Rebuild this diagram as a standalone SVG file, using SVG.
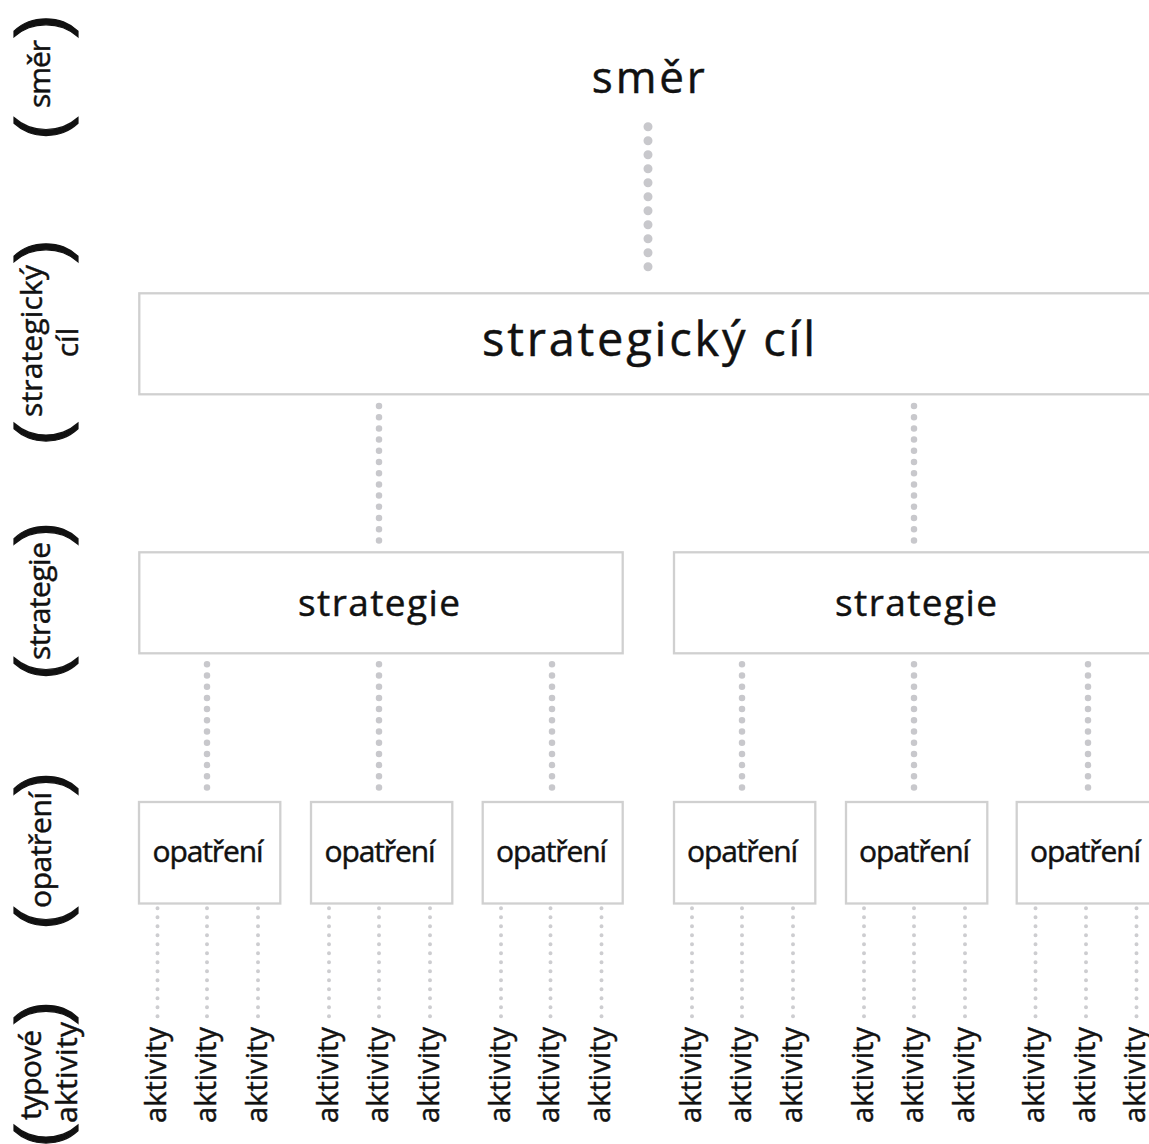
<svg xmlns="http://www.w3.org/2000/svg" width="1149" height="1144" viewBox="0 0 1149 1144">
<style>
  text { font-family: "Open Sans", "Noto Sans", "DejaVu Sans", sans-serif; fill: #111; stroke: #111; stroke-width: 0.45; }
  .box { fill: #fff; stroke: #d0d0d0; stroke-width: 2.3; }
  .lbl { font-size: 30px; text-anchor: middle; }
  .par { font-family: "Liberation Sans", Arial, sans-serif; font-size: 68px; text-anchor: middle; stroke-width: 1.2; }
  .act { font-size: 29px; text-anchor: middle; }
  .dl { fill: none; stroke: #c8c8cc; stroke-linecap: round; }
  .d1 { stroke-width: 9; stroke-dasharray: 0 14; }
  .d2 { stroke-width: 6.5; stroke-dasharray: 0 11.2; }
  .d3 { stroke-width: 4; stroke-dasharray: 0 9; stroke: #cdcdd0; }
</style>
<rect width="1149" height="1144" fill="#fff"/>

<!-- left level labels -->
<g id="label-smer">
  <text class="par" transform="translate(64,26) rotate(-90)">)</text>
  <text class="lbl" transform="translate(50,74) rotate(-90)" textLength="68" lengthAdjust="spacing">směr</text>
  <text class="par" transform="translate(64,128.5) rotate(-90)">(</text>
</g>
<g id="label-cil">
  <text class="par" transform="translate(64,251) rotate(-90)">)</text>
  <text class="lbl" transform="translate(42,341) rotate(-90)" textLength="152" lengthAdjust="spacing">strategický</text>
  <text class="lbl" transform="translate(78,342.5) rotate(-90)">cíl</text>
  <text class="par" transform="translate(64,434) rotate(-90)">(</text>
</g>
<g id="label-strategie">
  <text class="par" transform="translate(64,533.5) rotate(-90)">)</text>
  <text class="lbl" transform="translate(50,601) rotate(-90)" textLength="118" lengthAdjust="spacing">strategie</text>
  <text class="par" transform="translate(64,668.5) rotate(-90)">(</text>
</g>
<g id="label-opatreni">
  <text class="par" transform="translate(64,783.5) rotate(-90)">)</text>
  <text class="lbl" transform="translate(51,850) rotate(-90)" textLength="116" lengthAdjust="spacing">opatření</text>
  <text class="par" transform="translate(64,918.5) rotate(-90)">(</text>
</g>
<g id="label-aktivity">
  <text class="par" transform="translate(64,1012.5) rotate(-90)">)</text>
  <text class="lbl" transform="translate(41,1075) rotate(-90)" textLength="90" lengthAdjust="spacing">typové</text>
  <text class="lbl" transform="translate(77,1072.5) rotate(-90)" textLength="101" lengthAdjust="spacing">aktivity</text>
  <text class="par" transform="translate(64,1136) rotate(-90)">(</text>
</g>

<!-- connectors -->
<g id="connectors">
  <line class="dl d1" x1="648" y1="126.7" x2="648" y2="266.8"/>
  <line class="dl d2" x1="379" y1="406" x2="379" y2="547.7"/>
  <line class="dl d2" x1="914" y1="406" x2="914" y2="547.7"/>
  <line class="dl d2" x1="207" y1="664.3" x2="207" y2="787.6"/>
  <line class="dl d2" x1="379" y1="664.3" x2="379" y2="787.6"/>
  <line class="dl d2" x1="552" y1="664.3" x2="552" y2="787.6"/>
  <line class="dl d2" x1="742" y1="664.3" x2="742" y2="787.6"/>
  <line class="dl d2" x1="914" y1="664.3" x2="914" y2="787.6"/>
  <line class="dl d2" x1="1088" y1="664.3" x2="1088" y2="787.6"/>
  <g>
    <line class="dl d3" x1="157.5" y1="908.3" x2="157.5" y2="1016.4"/>
    <line class="dl d3" x1="207" y1="908.3" x2="207" y2="1016.4"/>
    <line class="dl d3" x1="258" y1="908.3" x2="258" y2="1016.4"/>
    <line class="dl d3" x1="329" y1="908.3" x2="329" y2="1016.4"/>
    <line class="dl d3" x1="379" y1="908.3" x2="379" y2="1016.4"/>
    <line class="dl d3" x1="430" y1="908.3" x2="430" y2="1016.4"/>
    <line class="dl d3" x1="501" y1="908.3" x2="501" y2="1016.4"/>
    <line class="dl d3" x1="550.5" y1="908.3" x2="550.5" y2="1016.4"/>
    <line class="dl d3" x1="601.5" y1="908.3" x2="601.5" y2="1016.4"/>
    <line class="dl d3" x1="692" y1="908.3" x2="692" y2="1016.4"/>
    <line class="dl d3" x1="742" y1="908.3" x2="742" y2="1016.4"/>
    <line class="dl d3" x1="793" y1="908.3" x2="793" y2="1016.4"/>
    <line class="dl d3" x1="864" y1="908.3" x2="864" y2="1016.4"/>
    <line class="dl d3" x1="914" y1="908.3" x2="914" y2="1016.4"/>
    <line class="dl d3" x1="965" y1="908.3" x2="965" y2="1016.4"/>
    <line class="dl d3" x1="1035.5" y1="908.3" x2="1035.5" y2="1016.4"/>
    <line class="dl d3" x1="1086" y1="908.3" x2="1086" y2="1016.4"/>
    <line class="dl d3" x1="1136.5" y1="908.3" x2="1136.5" y2="1016.4"/>
  </g>
</g>

<!-- nodes -->
<g id="node-smer">
  <text x="648.3" y="93.3" font-size="44" text-anchor="middle" textLength="113" lengthAdjust="spacing">směr</text>
</g>
<g id="node-cil">
  <rect class="box" x="139.3" y="293.3" width="1018" height="101"/>
  <text x="648.5" y="356" font-size="47" text-anchor="middle" textLength="333" lengthAdjust="spacing">strategický cíl</text>
</g>
<g id="node-strategie-1">
  <rect class="box" x="139.3" y="552.3" width="483.4" height="101"/>
  <text x="379" y="616" font-size="37" text-anchor="middle" textLength="162" lengthAdjust="spacing">strategie</text>
</g>
<g id="node-strategie-2">
  <rect class="box" x="674" y="552.3" width="483.4" height="101"/>
  <text x="916" y="616" font-size="37" text-anchor="middle" textLength="162" lengthAdjust="spacing">strategie</text>
</g>
<g id="node-opatreni-1">
  <rect class="box" x="139" y="802" width="141.3" height="101.5"/>
  <text x="208" y="861.7" font-size="30" text-anchor="middle" textLength="111" lengthAdjust="spacing">opatření</text>
</g>
<g id="node-opatreni-2">
  <rect class="box" x="311" y="802" width="141.3" height="101.5"/>
  <text x="380" y="861.7" font-size="30" text-anchor="middle" textLength="111" lengthAdjust="spacing">opatření</text>
</g>
<g id="node-opatreni-3">
  <rect class="box" x="482.7" y="802" width="140" height="101.5"/>
  <text x="551.5" y="861.7" font-size="30" text-anchor="middle" textLength="111" lengthAdjust="spacing">opatření</text>
</g>
<g id="node-opatreni-4">
  <rect class="box" x="674" y="802" width="141.3" height="101.5"/>
  <text x="742.5" y="861.7" font-size="30" text-anchor="middle" textLength="111" lengthAdjust="spacing">opatření</text>
</g>
<g id="node-opatreni-5">
  <rect class="box" x="846" y="802" width="141.3" height="101.5"/>
  <text x="914.5" y="861.7" font-size="30" text-anchor="middle" textLength="111" lengthAdjust="spacing">opatření</text>
</g>
<g id="node-opatreni-6">
  <rect class="box" x="1016.7" y="802" width="141.3" height="101.5"/>
  <text x="1085.5" y="861.7" font-size="30" text-anchor="middle" textLength="111" lengthAdjust="spacing">opatření</text>
</g>

<!-- activities -->
<g id="activities">
  <text class="act" transform="translate(166,1075) rotate(-90)" textLength="96" lengthAdjust="spacing">aktivity</text>
  <text class="act" transform="translate(215.5,1075) rotate(-90)" textLength="96" lengthAdjust="spacing">aktivity</text>
  <text class="act" transform="translate(266.5,1075) rotate(-90)" textLength="96" lengthAdjust="spacing">aktivity</text>
  <text class="act" transform="translate(337.5,1075) rotate(-90)" textLength="96" lengthAdjust="spacing">aktivity</text>
  <text class="act" transform="translate(387.5,1075) rotate(-90)" textLength="96" lengthAdjust="spacing">aktivity</text>
  <text class="act" transform="translate(438.5,1075) rotate(-90)" textLength="96" lengthAdjust="spacing">aktivity</text>
  <text class="act" transform="translate(509.5,1075) rotate(-90)" textLength="96" lengthAdjust="spacing">aktivity</text>
  <text class="act" transform="translate(559,1075) rotate(-90)" textLength="96" lengthAdjust="spacing">aktivity</text>
  <text class="act" transform="translate(610,1075) rotate(-90)" textLength="96" lengthAdjust="spacing">aktivity</text>
  <text class="act" transform="translate(700.5,1075) rotate(-90)" textLength="96" lengthAdjust="spacing">aktivity</text>
  <text class="act" transform="translate(750.5,1075) rotate(-90)" textLength="96" lengthAdjust="spacing">aktivity</text>
  <text class="act" transform="translate(801.5,1075) rotate(-90)" textLength="96" lengthAdjust="spacing">aktivity</text>
  <text class="act" transform="translate(872.5,1075) rotate(-90)" textLength="96" lengthAdjust="spacing">aktivity</text>
  <text class="act" transform="translate(922.5,1075) rotate(-90)" textLength="96" lengthAdjust="spacing">aktivity</text>
  <text class="act" transform="translate(973.5,1075) rotate(-90)" textLength="96" lengthAdjust="spacing">aktivity</text>
  <text class="act" transform="translate(1044,1075) rotate(-90)" textLength="96" lengthAdjust="spacing">aktivity</text>
  <text class="act" transform="translate(1094.5,1075) rotate(-90)" textLength="96" lengthAdjust="spacing">aktivity</text>
  <text class="act" transform="translate(1145,1075) rotate(-90)" textLength="96" lengthAdjust="spacing">aktivity</text>
</g>
</svg>
